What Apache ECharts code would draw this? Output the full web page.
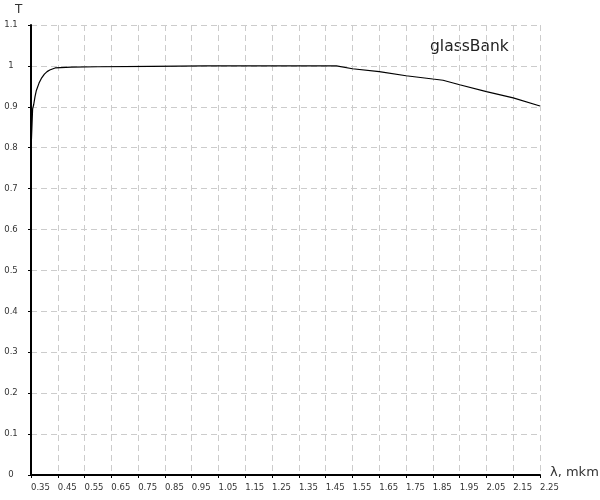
<!DOCTYPE html>
<html>
<head>
<meta charset="utf-8">
<script src="https://cdn.jsdelivr.net/npm/echarts@6/dist/echarts.min.js"></script>
<style>html,body{margin:0;padding:0;background:#fff}#c{width:600px;height:500px}</style>
</head>
<body>
<div id="c"></div>
<script>
// wavelength (mkm)
var lambda = [0.350, 0.3505, 0.353, 0.356, 0.360, 0.365, 0.370, 0.380, 0.390, 0.400, 0.410, 0.420, 0.440, 0.500, 0.600, 0.800, 1.000, 1.490, 1.550, 1.650, 1.750, 1.850, 1.888, 1.950, 2.050, 2.150, 2.250];
// transmission
var transmission = [0.735, 0.800, 0.800, 0.895, 0.905, 0.925, 0.940, 0.958, 0.971, 0.980, 0.986, 0.990, 0.995, 0.997, 0.998, 0.999, 1.000, 1.000, 0.993, 0.986, 0.976, 0.968, 0.965, 0.954, 0.937, 0.922, 0.902];

var xMin = 0.35, xMax = 2.25, xStep = 0.1;
var yMin = 0, yMax = 1.1, yStep = 0.1;
var xName = 'λ, mkm', yName = 'T', title = 'glassBank';

var pts = lambda.map(function (x, i) { return [x, transmission[i]]; });
var font = 'DejaVu Sans, Verdana, sans-serif';
var chart = echarts.init(document.getElementById('c'));
chart.setOption({
  animation: false,
  backgroundColor: '#fff',
  grid: { left: 31, right: 60, top: 25, bottom: 25 },
  xAxis: {
    type: 'value', min: xMin, max: xMax, interval: xStep,
    axisLine: { show: true, onZero: false, lineStyle: { color: '#000', width: 2 } },
    axisTick: { show: true, length: 3, lineStyle: { color: '#000', width: 1 } },
    axisLabel: { fontSize: 8.5, fontFamily: font, color: '#333', margin: 8, align: 'left',
      formatter: function (v) { return (+v).toFixed(2); } },
    splitLine: { show: true, lineStyle: { color: '#ccc', type: [6, 4], width: 1 } }
  },
  yAxis: {
    type: 'value', min: yMin, max: yMax, interval: yStep,
    axisLine: { show: true, lineStyle: { color: '#000', width: 2 } },
    axisTick: { show: true, length: 3, lineStyle: { color: '#000', width: 1 } },
    axisLabel: { fontSize: 8.5, fontFamily: font, color: '#333', margin: 20, align: 'center',
      verticalAlign: 'middle', padding: [0, 0, 5, 0],
      formatter: function (v) { return String(+(+v).toFixed(2)); } },
    splitLine: { show: true, lineStyle: { color: '#ccc', type: [6, 4], width: 1 } }
  },
  graphic: [
    { type: 'text', left: 15, top: 4, style: { text: yName, font: '12px ' + font, fill: '#333' } },
    { type: 'text', left: 550, top: 466, style: { text: xName, font: '13px ' + font, fill: '#333' } },
    { type: 'text', left: 430, top: 39, style: { text: title, font: '15.5px ' + font, fill: '#222' } }
  ],
  series: [{
    type: 'line', data: pts, showSymbol: false, smooth: false,
    lineStyle: { color: '#000', width: 1.2 }, itemStyle: { color: '#000' }
  }]
});
</script>
</body>
</html>
